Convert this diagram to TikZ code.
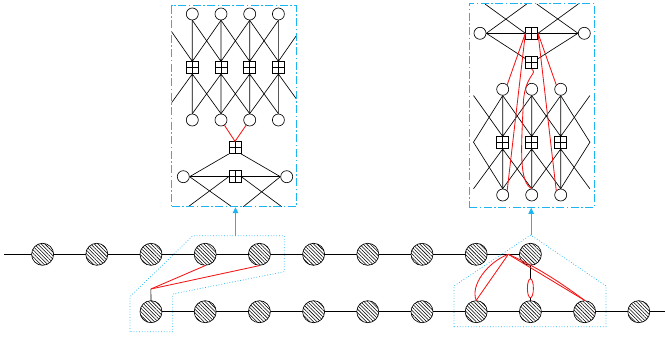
\documentclass[tikz,border=0pt]{standalone}
\usetikzlibrary{patterns.meta,arrows.meta,backgrounds,shapes.geometric}
\definecolor{linkblue}{RGB}{30,180,240}
\definecolor{lnkred}{RGB}{245,20,20}

\begin{document}
\begin{tikzpicture}[x=1pt,y=-1pt,
  var/.style={circle,draw,line width=0.65pt,minimum size=12pt,inner sep=0pt,fill=white},
  ghost/.style={circle,minimum size=12pt,inner sep=0pt},
  fac/.style={rectangle,draw,line width=0.65pt,minimum size=12pt,inner sep=0pt,fill=white,
    path picture={\draw[line width=0.65pt] (path picture bounding box.north) -- (path picture bounding box.south)
      (path picture bounding box.west) -- (path picture bounding box.east);}},
  site/.style={circle,draw,line width=0.65pt,minimum size=22pt,inner sep=0pt,
    preaction={fill=white},pattern={Lines[angle=-45,distance=2.5pt,line width=0.55pt]}},
  wire/.style={line width=0.65pt},
  link/.style={draw=lnkred,line width=0.85pt},
  panel/.style={draw=linkblue,line width=1pt,dash pattern=on 8pt off 2.5pt on 1.5pt off 2.5pt},
  grp/.style={draw=linkblue,line width=0.75pt,dotted},
  lift/.style={draw=linkblue,line width=1pt,-{Triangle[width=5.5pt,length=6pt]}}
]
\useasboundingbox (0,0) rectangle (665,337);

% ---------------- two chains of hatched sites ----------------
\foreach \i in {1,...,10}
  \node[site] (t\i) at ({42.6+54.2*(\i-1)},254.3) {};
\foreach \i in {3,...,12}
  \node[site] (b\i) at ({42.6+54.2*(\i-1)},311.7) {};
\coordinate (tl) at (4,254.3);
\coordinate (br) at (665,311.7);
\coordinate (J1) at (150.9,289);
\coordinate (J2) at (508.3,254.3);

\begin{scope}[on background layer]
  \draw[wire] (tl) -- (t10.center);
  \draw[wire] (b3.center) -- (br);
  \draw[wire] (b3.center) -- (J1);
  \draw[wire] (t10.center) -- (b10.center);
\end{scope}

% links between the chains
\draw[link] (J1) -- (t4.south);
\draw[link] (J1) -- (t5.south);
\draw[link] (J2) -- (b9.north);
\draw[link] (J2) .. controls (488,262) and (470,285) .. (b9.north);
\draw[link] (J2) -- (b11.north);
\draw[link] (J2) .. controls (535,266) and (560,282) .. (b11.north);
\node[ellipse,draw=lnkred,line width=0.85pt,fill=white,minimum width=6pt,minimum height=19pt,inner sep=0pt] (lp) at (530.4,288.3) {};

% dotted groups with lift arrows
\draw[grp] (130,331.7) -- (130,296.7) -- (192.7,235.7) -- (284.3,235.7) -- (284.3,271.7)
  -- (172.7,294) -- (172.7,331.7) -- cycle;
\draw[grp] (454,326.7) -- (454,286) -- (530.7,235) -- (606,286) -- (606,326.7) -- cycle;
\coordinate (gA) at (235.5,235.7);
\coordinate (gB) at (531.2,235);

% ---------------- left panel ----------------
\node[panel,rectangle,minimum width=124.3pt,minimum height=201pt,inner sep=0pt] (boxA) at (233.85,106.2) {};
\draw[lift] (gA) -- (gA |- boxA.south);

\foreach \i in {1,...,4} {
  \node[var] (c\i) at ({192.3+28.7*(\i-1)},14) {};
  \node[fac] (s\i) at ({192.3+28.7*(\i-1)},67.7) {};
  \node[var] (d\i) at ({192.3+28.7*(\i-1)},120) {};
}
\node[ghost] (c0) at (163.6,14) {};
\node[ghost] (c5) at (307.1,14) {};
\node[ghost] (d0) at (163.6,120) {};
\node[ghost] (d5) at (307.1,120) {};

\begin{scope}[on background layer]
  \begin{scope}
    \clip (171.7,5.7) rectangle (296,206.7);
    \foreach \i [evaluate=\i as \p using int(\i-1), evaluate=\i as \n using int(\i+1)] in {1,...,4} {
      \draw[wire] (s\i.north) -- (c\p.south) (s\i.north) -- (c\i.south) (s\i.north) -- (c\n.south);
      \draw[wire] (s\i.south) -- (d\p.north) (s\i.south) -- (d\i.north) (s\i.south) -- (d\n.north);
    }
  \end{scope}
\end{scope}

\node[fac] (S) at (235,147.7) {};
\node[var] (L) at (183.3,176.7) {};
\node[fac] (T) at (235,176.7) {};
\node[var] (R) at (286.7,176.7) {};
\coordinate (e1) at (231.7,206.7);
\coordinate (e2) at (188.3,206.7);
\coordinate (e3) at (243.3,206.7);
\coordinate (e4) at (281.7,206.7);
\begin{scope}[on background layer]
  \draw[wire] (S.south west) -- (L.east);
  \draw[wire] (S.south east) -- (R.west);
  \draw[wire] (L.east) -- (T.west) (T.east) -- (R.west);
  \draw[wire] (L.east) -- (e1) (T.west) -- (e2);
  \draw[wire] (R.west) -- (e3) (T.east) -- (e4);
\end{scope}
\draw[link] (d2) -- (S.north);
\draw[link] (d3) -- (S.north);

% ---------------- right panel ----------------
\node[panel,rectangle,minimum width=125.3pt,minimum height=204pt,inner sep=0pt] (boxB) at (531.65,105.3) {};
\draw[lift] (gB) -- (gB |- boxB.south);

\node[var] (U) at (480,33.3) {};
\node[var] (V) at (584.3,33.3) {};
\node[fac] (S1) at (531.7,33.3) {};
\node[fac] (S2) at (531.7,62.7) {};
\coordinate (u1) at (526.7,4);
\coordinate (u2) at (485,4);
\coordinate (u3) at (536.7,4);
\coordinate (u4) at (578.3,4);
\begin{scope}[on background layer]
  \draw[wire] (U.east) -- (S1.west) (S1.east) -- (V.west);
  \draw[wire] (U.east) -- (S2) (V.west) -- (S2);
  \draw[wire] (U.east) -- (u1) (S1.west) -- (u2);
  \draw[wire] (V.west) -- (u3) (S1.east) -- (u4);
\end{scope}

\foreach \i in {1,...,3} {
  \node[var] (m\i) at ({502.7+29*(\i-1)},89.3) {};
  \node[fac] (q\i) at ({502.7+29*(\i-1)},142.7) {};
  \node[var] (n\i) at ({502.7+29*(\i-1)},195) {};
}
\node[ghost] (m0) at (473.5,89.3) {};
\node[ghost] (n0) at (473.5,195) {};
\node[ghost] (m4) at (589.9,89.3) {};
\node[ghost] (n4) at (589.9,195) {};
\coordinate (q0) at (473.5,142.2);
\coordinate (q4) at (589.9,142.2);
\begin{scope}[on background layer]
  \foreach \i [evaluate=\i as \p using int(\i-1), evaluate=\i as \n using int(\i+1)] in {1,...,3} {
    \draw[wire] (q\i.north) -- (m\p.south) (q\i.north) -- (m\i.south) (q\i.north) -- (m\n.south);
    \draw[wire] (q\i.south) -- (n\p.north) (q\i.south) -- (n\i.north) (q\i.south) -- (n\n.north);
  }
  \draw[wire] (m1.south) -- (q0) -- (n1.north);
  \draw[wire] (m3.south) -- (q4) -- (n3.north);
\end{scope}

% red links from the upper factors
\draw[link] (S1.west) -- (m1.north east);
\draw[link] (S1.west) -- (n1.north east);
\draw[link] (S1.east) -- (m3.north west);
\draw[link] (S1.east) -- (n3.north west);
\draw[link] (S2.south) .. controls (538,74) and (526,74) .. (523.5,100)
  .. controls (521,150) and (519,182) .. (n2.north);
\end{tikzpicture}
\end{document}
